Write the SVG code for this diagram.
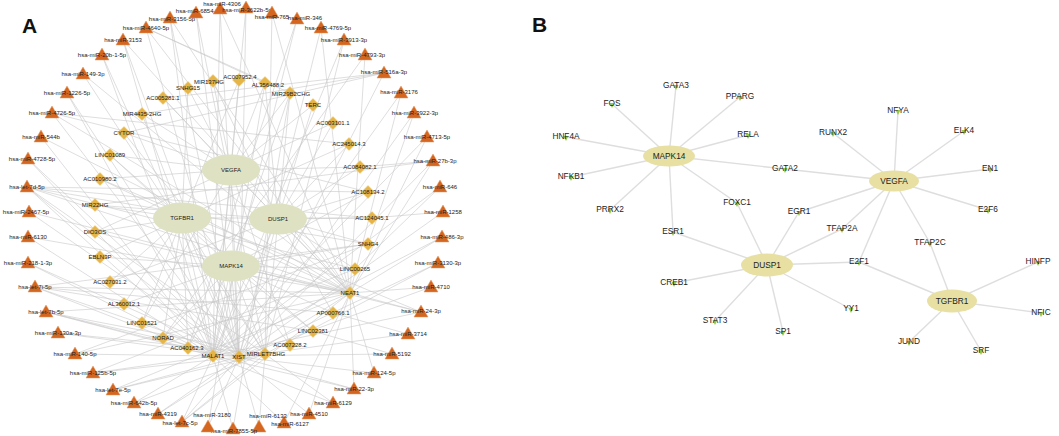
<svg xmlns="http://www.w3.org/2000/svg" xmlns:xlink="http://www.w3.org/1999/xlink" width="1059" height="436" viewBox="0 0 1059 436">
<style>
.bg{fill:#ffffff}
.ea path{fill:none;stroke:#c8c8c8;stroke-width:0.6}
.eb line{stroke:#dedede;stroke-width:1.4}
.hubA{fill:#dfe1c3}
.hubB{fill:#e7e0a2}
.tri{fill:#d4661f;stroke:#e59a66;stroke-width:0.5}
.dia{fill:#e6b547;stroke:#f0cf80;stroke-width:0.5}
.la{font-family:"Liberation Sans",Arial,sans-serif;font-size:6px;fill:#222;text-anchor:middle}
.lb{font-family:"Liberation Sans",Arial,sans-serif;font-size:8.3px;fill:#222;text-anchor:middle}
.leaf{fill:#96c84a}
.pl{font-family:"Liberation Sans",Arial,sans-serif;font-size:21px;font-weight:bold;fill:#111}
</style>
<defs>
<polygon id="tri" points="0,-7 -7,5 7,5"/>
<path id="dia" d="M0 -6.5L6.5 0L0 6.5L-6.5 0Z"/>
<polygon id="lf" points="-2.5,-1 2.5,-1 0,4"/>
</defs>
<rect class="bg" x="0" y="0" width="1059" height="436"/>
<text class="pl" x="22" y="33">A</text>
<text class="pl" x="532" y="32">B</text>

<g id="connectors-A" class="ea">
<path d="M231 170L188 88L182 218"/>
<path d="M231 170L213 81L278 219"/>
<path d="M231 170L239 80L182 218"/>
<path d="M231 170L265 83L278 219"/>
<path d="M231 170L290 93L278 219M290 93L231 266"/>
<path d="M231 170L313 105L278 219"/>
<path d="M278 219L333 123L231 170"/>
<path d="M278 219L349 144L182 218"/>
<path d="M278 219L360 167L231 170"/>
<path d="M278 219L368 192L231 266"/>
<path d="M278 219L372 218L182 218"/>
<path d="M278 219L368 244L231 266"/>
<path d="M231 266L355 269L278 219"/>
<path d="M231 266L350 293L278 219M350 293L182 218M350 293L231 170"/>
<path d="M231 266L333 313L278 219"/>
<path d="M231 266L313 331L182 218"/>
<path d="M231 266L290 345L231 170"/>
<path d="M231 266L265 354L278 219M265 354L182 218"/>
<path d="M231 266L239 357L182 218M239 357L231 170M239 357L278 219"/>
<path d="M231 266L213 356L182 218M213 356L231 170M213 356L278 219"/>
<path d="M231 266L188 348L182 218"/>
<path d="M182 218L163 338L231 266"/>
<path d="M182 218L142 323L231 170"/>
<path d="M182 218L124 304L231 266"/>
<path d="M182 218L110 282L278 219"/>
<path d="M182 218L100 257L231 266"/>
<path d="M182 218L95 232L231 170"/>
<path d="M182 218L95 205L278 219"/>
<path d="M182 218L100 179L231 170"/>
<path d="M231 170L110 155L182 218M110 155L231 266"/>
<path d="M231 170L124 133L231 266"/>
<path d="M231 170L142 114L182 218"/>
<path d="M231 170L163 98L278 219"/>
<path d="M239 357L170 18L213 356M170 18L350 293"/>
<path d="M239 357L196 13L265 354"/>
<path d="M213 356L220 9L239 357M220 9L350 293"/>
<path d="M239 357L246 8L213 356"/>
<path d="M265 354L272 13L350 293"/>
<path d="M213 356L297 19L188 348"/>
<path d="M350 293L321 28L239 357"/>
<path d="M213 356L344 40L265 354"/>
<path d="M350 293L365 55L163 338"/>
<path d="M239 357L384 73L142 114M384 73L124 133M384 73L163 98"/>
<path d="M350 293L401 93L213 356"/>
<path d="M239 357L414 113L368 244"/>
<path d="M350 293L427 137L213 356"/>
<path d="M350 293L433 161L239 357M433 161L95 205M433 161L360 167"/>
<path d="M213 356L440 187L355 269"/>
<path d="M239 357L443 212L372 218"/>
<path d="M350 293L442 237L213 356"/>
<path d="M265 354L438 263L239 357"/>
<path d="M350 293L431 287L239 357"/>
<path d="M350 293L421 312L213 356M421 312L95 232M421 312L100 179"/>
<path d="M239 357L408 334L333 313"/>
<path d="M213 356L392 354L313 331"/>
<path d="M350 293L374 373L239 357"/>
<path d="M239 357L354 389L213 356M354 389L350 293"/>
<path d="M213 356L333 403L265 354"/>
<path d="M239 357L309 414L350 293"/>
<path d="M350 293L284 423L213 356"/>
<path d="M239 357L259 427L265 354"/>
<path d="M213 356L233 429L290 93"/>
<path d="M239 357L208 427L265 83"/>
<path d="M265 354L182 422L350 293M182 422L239 357M182 422L213 356"/>
<path d="M239 357L158 414L350 293"/>
<path d="M213 356L134 403L265 354"/>
<path d="M265 354L113 390L239 357M113 390L350 293"/>
<path d="M239 357L93 373L213 356M93 373L355 269"/>
<path d="M213 356L75 354L350 293M75 354L368 244"/>
<path d="M239 357L58 333L265 354"/>
<path d="M265 354L46 312L239 357M46 312L213 356M46 312L350 293M46 312L188 348"/>
<path d="M350 293L35 287L239 357M35 287L213 356M35 287L333 313M35 287L313 331M35 287L368 244"/>
<path d="M239 357L28 263L213 356"/>
<path d="M213 356L28 237L350 293"/>
<path d="M239 357L29 212L350 293"/>
<path d="M350 293L27 187L239 357M27 187L213 356M27 187L265 354M27 187L372 218M27 187L368 192M27 187L355 269M27 187L368 244"/>
<path d="M213 356L28 159L239 357"/>
<path d="M350 293L41 137L213 356"/>
<path d="M239 357L52 113L350 293M52 113L368 192M52 113L349 144"/>
<path d="M213 356L67 93L239 357"/>
<path d="M350 293L83 74L265 354"/>
<path d="M239 357L102 55L213 356"/>
<path d="M350 293L123 40L213 356M123 40L239 357"/>
<path d="M265 83L146 28L290 93M146 28L239 357M146 28L350 293"/>
</g>

<g id="hubs-A">
<g id="A-VEGFA"><ellipse class="hubA" cx="231" cy="170" rx="29" ry="15.5"/><text class="la" x="231" y="172">VEGFA</text></g>
<g id="A-TGFBR1"><ellipse class="hubA" cx="182" cy="218" rx="29" ry="15.5"/><text class="la" x="182" y="220">TGFBR1</text></g>
<g id="A-DUSP1"><ellipse class="hubA" cx="278" cy="219" rx="29" ry="15.5"/><text class="la" x="278" y="221">DUSP1</text></g>
<g id="A-MAPK14"><ellipse class="hubA" cx="231" cy="266" rx="29" ry="15.5"/><text class="la" x="231" y="268">MAPK14</text></g>
</g>

<g id="lncRNA-A">
<g id="d1"><use href="#dia" class="dia" x="188" y="88"/><text class="la" x="188" y="90">SNHG15</text></g>
<g id="d2"><use href="#dia" class="dia" x="213" y="81"/><text class="la" x="209" y="84">MIR137HG</text></g>
<g id="d3"><use href="#dia" class="dia" x="239" y="80"/><text class="la" x="240" y="79">AC007952.4</text></g>
<g id="d4"><use href="#dia" class="dia" x="265" y="83"/><text class="la" x="268" y="87">AL356488.2</text></g>
<g id="d5"><use href="#dia" class="dia" x="290" y="93"/><text class="la" x="291" y="96">MIR29B2CHG</text></g>
<g id="d6"><use href="#dia" class="dia" x="313" y="105"/><text class="la" x="313" y="107">TERC</text></g>
<g id="d7"><use href="#dia" class="dia" x="333" y="123"/><text class="la" x="333" y="125">AC003101.1</text></g>
<g id="d8"><use href="#dia" class="dia" x="349" y="144"/><text class="la" x="349" y="146">AC245014.3</text></g>
<g id="d9"><use href="#dia" class="dia" x="360" y="167"/><text class="la" x="360" y="169">AC084082.1</text></g>
<g id="d10"><use href="#dia" class="dia" x="368" y="192"/><text class="la" x="368" y="194">AC108134.2</text></g>
<g id="d11"><use href="#dia" class="dia" x="372" y="218"/><text class="la" x="372" y="220">AC124045.1</text></g>
<g id="d12"><use href="#dia" class="dia" x="368" y="244"/><text class="la" x="368" y="246">SNHG4</text></g>
<g id="d13"><use href="#dia" class="dia" x="355" y="269"/><text class="la" x="355" y="271">LINC00265</text></g>
<g id="d14"><use href="#dia" class="dia" x="350" y="293"/><text class="la" x="350" y="295">NEAT1</text></g>
<g id="d15"><use href="#dia" class="dia" x="333" y="313"/><text class="la" x="333" y="315">AP000766.1</text></g>
<g id="d16"><use href="#dia" class="dia" x="313" y="331"/><text class="la" x="313" y="333">LINC02381</text></g>
<g id="d17"><use href="#dia" class="dia" x="290" y="345"/><text class="la" x="290" y="347">AC007228.2</text></g>
<g id="d18"><use href="#dia" class="dia" x="265" y="354"/><text class="la" x="266" y="356">MIRLET7BHG</text></g>
<g id="d19"><use href="#dia" class="dia" x="239" y="357"/><text class="la" x="239" y="359">XIST</text></g>
<g id="d20"><use href="#dia" class="dia" x="213" y="356"/><text class="la" x="213" y="358">MALAT1</text></g>
<g id="d21"><use href="#dia" class="dia" x="188" y="348"/><text class="la" x="187" y="350">AC040162.3</text></g>
<g id="d22"><use href="#dia" class="dia" x="163" y="338"/><text class="la" x="163" y="340">NORAD</text></g>
<g id="d23"><use href="#dia" class="dia" x="142" y="323"/><text class="la" x="142" y="325">LINC01521</text></g>
<g id="d24"><use href="#dia" class="dia" x="124" y="304"/><text class="la" x="124" y="306">AL360012.1</text></g>
<g id="d25"><use href="#dia" class="dia" x="110" y="282"/><text class="la" x="110" y="284">AC027031.2</text></g>
<g id="d26"><use href="#dia" class="dia" x="100" y="257"/><text class="la" x="100" y="259">EBLN3P</text></g>
<g id="d27"><use href="#dia" class="dia" x="95" y="232"/><text class="la" x="95" y="234">DIO3OS</text></g>
<g id="d28"><use href="#dia" class="dia" x="95" y="205"/><text class="la" x="95" y="207">MIR22HG</text></g>
<g id="d29"><use href="#dia" class="dia" x="100" y="179"/><text class="la" x="100" y="181">AC010980.2</text></g>
<g id="d30"><use href="#dia" class="dia" x="110" y="155"/><text class="la" x="110" y="157">LINC01089</text></g>
<g id="d31"><use href="#dia" class="dia" x="124" y="133"/><text class="la" x="124" y="135">CYTOR</text></g>
<g id="d32"><use href="#dia" class="dia" x="142" y="114"/><text class="la" x="142" y="116">MIR4435-2HG</text></g>
<g id="d33"><use href="#dia" class="dia" x="163" y="98"/><text class="la" x="163" y="100">AC005281.1</text></g>
</g>

<g id="miRNA-A">
<g id="t1"><use href="#tri" class="tri" x="170" y="18"/><text class="la" x="172" y="21">hsa-miR-3156-5p</text></g>
<g id="t2"><use href="#tri" class="tri" x="196" y="13"/><text class="la" x="199" y="13">hsa-miR-6854-5p</text></g>
<g id="t3"><use href="#tri" class="tri" x="220" y="9"/><text class="la" x="222" y="5.5">hsa-miR-4306</text></g>
<g id="t4"><use href="#tri" class="tri" x="246" y="8"/><text class="la" x="247" y="12">hsa-miR-3622b-5p</text></g>
<g id="t5"><use href="#tri" class="tri" x="272" y="13"/><text class="la" x="272" y="19">hsa-miR-765</text></g>
<g id="t6"><use href="#tri" class="tri" x="297" y="19"/><text class="la" x="305" y="20">hsa-miR-346</text></g>
<g id="t7"><use href="#tri" class="tri" x="321" y="28"/><text class="la" x="328" y="30">hsa-miR-4769-5p</text></g>
<g id="t8"><use href="#tri" class="tri" x="344" y="40"/><text class="la" x="344" y="42">hsa-miR-3913-3p</text></g>
<g id="t9"><use href="#tri" class="tri" x="365" y="55"/><text class="la" x="362" y="57">hsa-miR-4793-3p</text></g>
<g id="t10"><use href="#tri" class="tri" x="384" y="73"/><text class="la" x="384" y="74">hsa-miR-516a-3p</text></g>
<g id="t11"><use href="#tri" class="tri" x="401" y="93"/><text class="la" x="399" y="94">hsa-miR-3176</text></g>
<g id="t12"><use href="#tri" class="tri" x="414" y="113"/><text class="la" x="415" y="115">hsa-miR-3922-3p</text></g>
<g id="t13"><use href="#tri" class="tri" x="427" y="137"/><text class="la" x="427" y="139">hsa-miR-4713-5p</text></g>
<g id="t14"><use href="#tri" class="tri" x="433" y="161"/><text class="la" x="435" y="163">hsa-miR-27b-3p</text></g>
<g id="t15"><use href="#tri" class="tri" x="440" y="187"/><text class="la" x="440" y="189">hsa-miR-646</text></g>
<g id="t16"><use href="#tri" class="tri" x="443" y="212"/><text class="la" x="443" y="214">hsa-miR-1258</text></g>
<g id="t17"><use href="#tri" class="tri" x="442" y="237"/><text class="la" x="442" y="239">hsa-miR-486-3p</text></g>
<g id="t18"><use href="#tri" class="tri" x="438" y="263"/><text class="la" x="438" y="265">hsa-miR-3130-3p</text></g>
<g id="t19"><use href="#tri" class="tri" x="431" y="287"/><text class="la" x="431" y="289">hsa-miR-4710</text></g>
<g id="t20"><use href="#tri" class="tri" x="421" y="312"/><text class="la" x="421" y="313">hsa-miR-24-3p</text></g>
<g id="t21"><use href="#tri" class="tri" x="408" y="334"/><text class="la" x="408" y="336">hsa-miR-3714</text></g>
<g id="t22"><use href="#tri" class="tri" x="392" y="354"/><text class="la" x="392" y="356">hsa-miR-5192</text></g>
<g id="t23"><use href="#tri" class="tri" x="374" y="373"/><text class="la" x="374" y="375">hsa-miR-124-5p</text></g>
<g id="t24"><use href="#tri" class="tri" x="354" y="389"/><text class="la" x="354" y="391">hsa-miR-22-3p</text></g>
<g id="t25"><use href="#tri" class="tri" x="333" y="403"/><text class="la" x="333" y="405">hsa-miR-6129</text></g>
<g id="t26"><use href="#tri" class="tri" x="309" y="414"/><text class="la" x="309" y="416">hsa-miR-4510</text></g>
<g id="t27"><use href="#tri" class="tri" x="284" y="423"/><text class="la" x="290" y="426">hsa-miR-6127</text></g>
<g id="t28"><use href="#tri" class="tri" x="259" y="427"/><text class="la" x="268" y="418">hsa-miR-6133</text></g>
<g id="t29"><use href="#tri" class="tri" x="233" y="429"/><text class="la" x="234" y="433">hsa-miR-7855-5p</text></g>
<g id="t30"><use href="#tri" class="tri" x="208" y="427"/><text class="la" x="212" y="417">hsa-miR-3180</text></g>
<g id="t31"><use href="#tri" class="tri" x="182" y="422"/><text class="la" x="180" y="425">hsa-let-7c-5p</text></g>
<g id="t32"><use href="#tri" class="tri" x="158" y="414"/><text class="la" x="158" y="416">hsa-miR-4319</text></g>
<g id="t33"><use href="#tri" class="tri" x="134" y="403"/><text class="la" x="134" y="405">hsa-miR-642b-5p</text></g>
<g id="t34"><use href="#tri" class="tri" x="113" y="390"/><text class="la" x="113" y="392">hsa-let-7e-5p</text></g>
<g id="t35"><use href="#tri" class="tri" x="93" y="373"/><text class="la" x="93" y="375">hsa-miR-125b-5p</text></g>
<g id="t36"><use href="#tri" class="tri" x="75" y="354"/><text class="la" x="75" y="356">hsa-miR-140-5p</text></g>
<g id="t37"><use href="#tri" class="tri" x="58" y="333"/><text class="la" x="58" y="335">hsa-miR-130a-3p</text></g>
<g id="t38"><use href="#tri" class="tri" x="46" y="312"/><text class="la" x="46" y="314">hsa-let-7b-5p</text></g>
<g id="t39"><use href="#tri" class="tri" x="35" y="287"/><text class="la" x="35" y="289">hsa-let-7i-5p</text></g>
<g id="t40"><use href="#tri" class="tri" x="28" y="263"/><text class="la" x="28" y="265">hsa-miR-218-1-3p</text></g>
<g id="t41"><use href="#tri" class="tri" x="28" y="237"/><text class="la" x="28" y="239">hsa-miR-6130</text></g>
<g id="t42"><use href="#tri" class="tri" x="29" y="212"/><text class="la" x="26" y="214">hsa-miR-2467-5p</text></g>
<g id="t43"><use href="#tri" class="tri" x="27" y="187"/><text class="la" x="27" y="189">hsa-let-7d-5p</text></g>
<g id="t44"><use href="#tri" class="tri" x="28" y="159"/><text class="la" x="32" y="161">hsa-miR-4728-5p</text></g>
<g id="t45"><use href="#tri" class="tri" x="41" y="137"/><text class="la" x="41" y="139">hsa-miR-544b</text></g>
<g id="t46"><use href="#tri" class="tri" x="52" y="113"/><text class="la" x="52" y="115">hsa-miR-4726-5p</text></g>
<g id="t47"><use href="#tri" class="tri" x="67" y="93"/><text class="la" x="67" y="95">hsa-miR-1226-5p</text></g>
<g id="t48"><use href="#tri" class="tri" x="83" y="74"/><text class="la" x="83" y="76">hsa-miR-149-3p</text></g>
<g id="t49"><use href="#tri" class="tri" x="102" y="55"/><text class="la" x="102" y="57">hsa-miR-20b-1-5p</text></g>
<g id="t50"><use href="#tri" class="tri" x="123" y="40"/><text class="la" x="123" y="42">hsa-miR-3153</text></g>
<g id="t51"><use href="#tri" class="tri" x="146" y="28"/><text class="la" x="146" y="30">hsa-miR-4640-5p</text></g>
</g>

<g id="connectors-B" class="eb">
<line x1="669" y1="156" x2="676" y2="86"/>
<line x1="669" y1="156" x2="612" y2="104"/>
<line x1="669" y1="156" x2="740" y2="97"/>
<line x1="669" y1="156" x2="566" y2="137"/>
<line x1="669" y1="156" x2="748" y2="135"/>
<line x1="669" y1="156" x2="571" y2="177"/>
<line x1="669" y1="156" x2="785" y2="169"/>
<line x1="669" y1="156" x2="610" y2="210"/>
<line x1="669" y1="156" x2="737" y2="203"/>
<line x1="669" y1="156" x2="673" y2="232"/>
<line x1="894" y1="181" x2="898" y2="111"/>
<line x1="894" y1="181" x2="833" y2="133"/>
<line x1="894" y1="181" x2="964" y2="131"/>
<line x1="894" y1="181" x2="990" y2="169"/>
<line x1="894" y1="181" x2="988" y2="210"/>
<line x1="894" y1="181" x2="785" y2="169"/>
<line x1="894" y1="181" x2="799" y2="212"/>
<line x1="894" y1="181" x2="842" y2="229"/>
<line x1="894" y1="181" x2="859" y2="262"/>
<line x1="894" y1="181" x2="930" y2="243"/>
<line x1="767" y1="265" x2="737" y2="203"/>
<line x1="767" y1="265" x2="799" y2="212"/>
<line x1="767" y1="265" x2="842" y2="229"/>
<line x1="767" y1="265" x2="673" y2="232"/>
<line x1="767" y1="265" x2="859" y2="262"/>
<line x1="767" y1="265" x2="674" y2="283"/>
<line x1="767" y1="265" x2="715" y2="321"/>
<line x1="767" y1="265" x2="783" y2="332"/>
<line x1="767" y1="265" x2="851" y2="309"/>
<line x1="952" y1="301" x2="859" y2="262"/>
<line x1="952" y1="301" x2="930" y2="243"/>
<line x1="952" y1="301" x2="1038" y2="262"/>
<line x1="952" y1="301" x2="1041" y2="313"/>
<line x1="952" y1="301" x2="909" y2="342"/>
<line x1="952" y1="301" x2="981" y2="351"/>
</g>

<g id="hubs-B">
<g id="B-MAPK14"><ellipse class="hubB" cx="669" cy="156" rx="26" ry="10.5"/><text class="lb" x="669" y="159">MAPK14</text></g>
<g id="B-VEGFA"><ellipse class="hubB" cx="894" cy="181" rx="25" ry="10.5"/><text class="lb" x="894" y="184">VEGFA</text></g>
<g id="B-DUSP1"><ellipse class="hubB" cx="767" cy="265" rx="26" ry="11.5"/><text class="lb" x="767" y="268">DUSP1</text></g>
<g id="B-TGFBR1"><ellipse class="hubB" cx="952" cy="301" rx="25" ry="11.5"/><text class="lb" x="952" y="304">TGFBR1</text></g>
</g>

<g id="leaves-B">
<g id="b-GATA3"><use href="#lf" class="leaf" x="676" y="86"/><text class="lb" x="676" y="88">GATA3</text></g>
<g id="b-FOS"><use href="#lf" class="leaf" x="612" y="104"/><text class="lb" x="612" y="106">FOS</text></g>
<g id="b-PPARG"><use href="#lf" class="leaf" x="740" y="97"/><text class="lb" x="740" y="99">PPARG</text></g>
<g id="b-HNF4A"><use href="#lf" class="leaf" x="566" y="137"/><text class="lb" x="566" y="139">HNF4A</text></g>
<g id="b-RELA"><use href="#lf" class="leaf" x="748" y="135"/><text class="lb" x="748" y="137">RELA</text></g>
<g id="b-NFKB1"><use href="#lf" class="leaf" x="571" y="177"/><text class="lb" x="571" y="179">NFKB1</text></g>
<g id="b-GATA2"><use href="#lf" class="leaf" x="785" y="169"/><text class="lb" x="785" y="171">GATA2</text></g>
<g id="b-PRRX2"><use href="#lf" class="leaf" x="610" y="210"/><text class="lb" x="610" y="212">PRRX2</text></g>
<g id="b-FOXC1"><use href="#lf" class="leaf" x="737" y="203"/><text class="lb" x="737" y="205">FOXC1</text></g>
<g id="b-EGR1"><use href="#lf" class="leaf" x="799" y="212"/><text class="lb" x="799" y="214">EGR1</text></g>
<g id="b-NFYA"><use href="#lf" class="leaf" x="898" y="111"/><text class="lb" x="898" y="113">NFYA</text></g>
<g id="b-RUNX2"><use href="#lf" class="leaf" x="833" y="133"/><text class="lb" x="833" y="135">RUNX2</text></g>
<g id="b-ELK4"><use href="#lf" class="leaf" x="964" y="131"/><text class="lb" x="964" y="133">ELK4</text></g>
<g id="b-EN1"><use href="#lf" class="leaf" x="990" y="169"/><text class="lb" x="990" y="171">EN1</text></g>
<g id="b-E2F6"><use href="#lf" class="leaf" x="988" y="210"/><text class="lb" x="988" y="212">E2F6</text></g>
<g id="b-ESR1"><use href="#lf" class="leaf" x="673" y="232"/><text class="lb" x="673" y="234">ESR1</text></g>
<g id="b-TFAP2A"><use href="#lf" class="leaf" x="842" y="229"/><text class="lb" x="842" y="231">TFAP2A</text></g>
<g id="b-TFAP2C"><use href="#lf" class="leaf" x="930" y="243"/><text class="lb" x="930" y="245">TFAP2C</text></g>
<g id="b-E2F1"><use href="#lf" class="leaf" x="859" y="262"/><text class="lb" x="859" y="264">E2F1</text></g>
<g id="b-HINFP"><use href="#lf" class="leaf" x="1038" y="262"/><text class="lb" x="1038" y="264">HINFP</text></g>
<g id="b-CREB1"><use href="#lf" class="leaf" x="674" y="283"/><text class="lb" x="674" y="285">CREB1</text></g>
<g id="b-YY1"><use href="#lf" class="leaf" x="851" y="309"/><text class="lb" x="851" y="311">YY1</text></g>
<g id="b-NFIC"><use href="#lf" class="leaf" x="1041" y="313"/><text class="lb" x="1041" y="315">NFIC</text></g>
<g id="b-STAT3"><use href="#lf" class="leaf" x="715" y="321"/><text class="lb" x="715" y="323">STAT3</text></g>
<g id="b-SP1"><use href="#lf" class="leaf" x="783" y="332"/><text class="lb" x="783" y="334">SP1</text></g>
<g id="b-JUND"><use href="#lf" class="leaf" x="909" y="342"/><text class="lb" x="909" y="344">JUND</text></g>
<g id="b-SRF"><use href="#lf" class="leaf" x="981" y="351"/><text class="lb" x="981" y="353">SRF</text></g>
</g>
</svg>
